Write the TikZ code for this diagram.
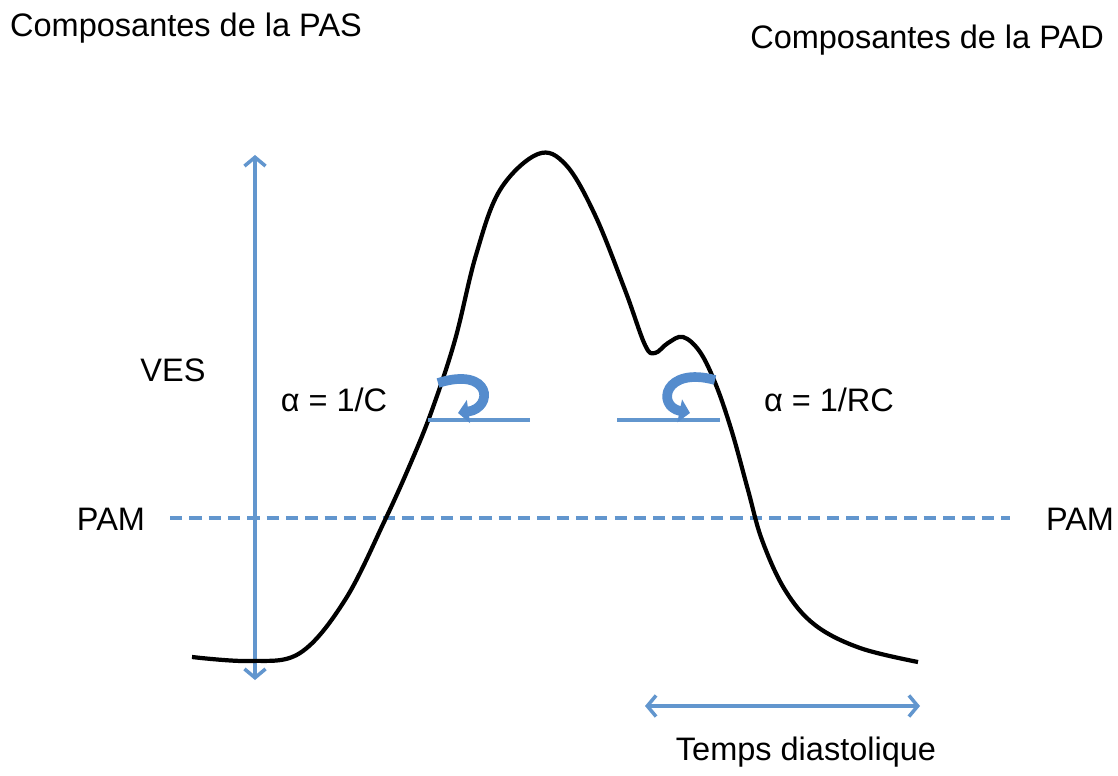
\documentclass[tikz,border=0pt]{standalone}
\usepackage{fontspec}
\setmainfont{Liberation Sans}
\usetikzlibrary{arrows.meta}
\definecolor{bleu}{RGB}{98,150,206}
\definecolor{bleuf}{RGB}{85,140,205}

\begin{document}
\begin{tikzpicture}[x=0.02cm,y=-0.02cm,font=\fontsize{18.5}{22}\selectfont,
    fl/.style={bleu,line width=2pt,{Straight Barb[length=5pt,width=12pt]}-{Straight Barb[length=5pt,width=12pt]}},
    crochet/.style={bleuf,line width=5.5pt,-{Triangle[width=13pt,length=6pt]}}]
  \useasboundingbox (0,0) rectangle (1118,776);
  % titres
  \node[anchor=west](pas) at (4,28){Composantes de la PAS};
  \node[anchor=east](pad) at (1110,40){Composantes de la PAD};
  \node(ves) at (173,370){VES};
  \node(ac) at (334,400){α = 1/C};
  \node(arc) at (829,400){α = 1/RC};
  \node(pamg) at (111,519){PAM};
  \node(pamd) at (1080,519){PAM};
  \node(temps) at (806,752){Temps diastolique};
  % repere
  \coordinate(haut) at (255,155);
  \coordinate(bas) at (255,680);
  \draw[fl](haut)--(bas);
  \coordinate(dg) at (645,706);
  \coordinate(dd) at (920,706);
  \draw[fl](dg)--(dd);
  \coordinate(mg) at (170,518);
  \coordinate(md) at (1010,518);
  \draw[bleu,line width=2pt,dash pattern=on 7pt off 4pt](mg)--(md);
  % courbe de pression
  \draw[line width=2.4pt,line join=round] plot[smooth,tension=0.6] coordinates{
    (192,657) (250,661) (300,653) (345,600) (385,520) (412,460) (432,410)
    (455,340) (476,255) (500,190) (538,154) (566,165) (595,215) (625,290)
    (645,345) (655,353) (668,343) (683,337) (700,352) (716,385) (732,432)
    (748,490) (762,540) (785,590) (815,625) (860,648) (918,662)};
  % pentes
  \draw[bleu,line width=2pt](428,420)--(530,420);
  \draw[bleu,line width=2pt](617,420)--(720,420);
  \draw[crochet](438,383) .. controls (492,366) and (494,408) .. (458,413);
  \draw[crochet](715,380) .. controls (664,366) and (656,406) .. (690,413);
\end{tikzpicture}
\end{document}
